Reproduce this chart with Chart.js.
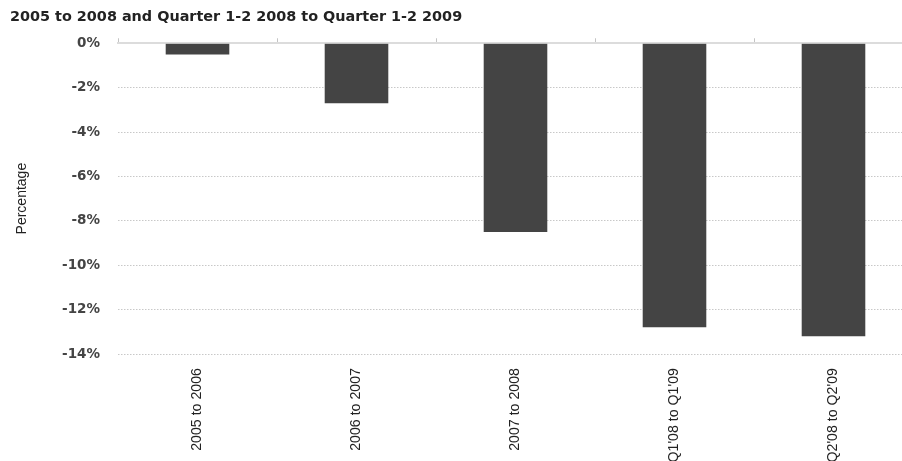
<!DOCTYPE html>
<html>
<head>
<meta charset="utf-8">
<script src="https://cdn.jsdelivr.net/npm/chart.js@4/dist/chart.umd.min.js"></script>
<style>
  html, body { margin: 0; padding: 0; background: #ffffff; overflow: hidden; }
  #wrap { width: 913px; height: 461px; }
</style>
</head>
<body>
<div id="wrap"><canvas id="c" width="913" height="461" style="width:913px;height:461px"></canvas></div>
<script>
const chartTitle = "2005 to 2008 and Quarter 1-2 2008 to Quarter 1-2 2009";
const categories = ["2005 to 2006", "2006 to 2007", "2007 to 2008", "Q1'08 to Q1'09", "Q2'08 to Q2'09"];
const changeValues = [-0.5, -2.7, -8.5, -12.8, -13.2];
const yTickValues = [0, -2, -4, -6, -8, -10, -12, -14];
const yAxisTitle = "Percentage";

new Chart(document.getElementById('c'), {
  type: 'bar',
  data: {
    labels: categories,
    datasets: [{
      data: changeValues,
      backgroundColor: '#444444',
      borderWidth: 0,
      barPercentage: 0.4,
      categoryPercentage: 1.0,
      xAxisID: 'x',
      yAxisID: 'y'
    }]
  },
  options: {
    responsive: false,
    animation: false,
    devicePixelRatio: 1,
    layout: { padding: { left: 10, right: 0, top: 0, bottom: 0 } },
    plugins: {
      legend: { display: false },
      tooltip: { enabled: false },
      title: {
        display: true,
        text: chartTitle,
        align: 'start',
        color: '#222222',
        font: { family: 'DejaVu Sans', size: 14.4, weight: 'bold', lineHeight: 1.2 },
        padding: { top: 8.5, bottom: 12.5 }
      }
    },
    scales: {
      x: {
        type: 'category',
        position: 'bottom',
        offset: true,
        grid: { display: false, offset: true },
        border: { display: false },
        ticks: {
          autoSkip: false,
          minRotation: 90,
          maxRotation: 90,
          padding: 6,
          color: '#222222',
          font: { family: 'Liberation Sans', size: 14.2 }
        },
        afterFit: (s) => { s.height = 107; }
      },
      x2: {
        type: 'category',
        position: 'top',
        offset: true,
        grid: { display: true, offset: true, drawOnChartArea: false, drawTicks: true, tickLength: 5, color: '#c4c4c4', lineWidth: 1 },
        border: { display: true, color: '#dcdcdc', width: 2 },
        ticks: { display: false },
        afterFit: (s) => { s.height = 5; }
      },
      y: {
        type: 'linear',
        min: -14,
        max: 0,
        afterBuildTicks: (s) => { s.ticks = yTickValues.map(v => ({ value: v })); },
        grid: {
          drawTicks: false,
          color: (ctx) => (ctx.tick && ctx.tick.value === 0) ? 'rgba(0,0,0,0)' : '#c8c8c8',
          lineWidth: 1
        },
        border: { display: false, dash: [1.5, 1.5] },
        ticks: {
          padding: 18,
          color: '#444444',
          font: { family: 'DejaVu Sans', size: 13.5, weight: 'bold' },
          callback: (v) => v + '%'
        },
        title: {
          display: true,
          text: yAxisTitle,
          color: '#222222',
          font: { family: 'Liberation Sans', size: 14 },
          padding: { top: 4, bottom: 0 }
        },
        afterFit: (s) => { s.width = 108; }
      }
    }
  }
});
</script>
</body>
</html>
